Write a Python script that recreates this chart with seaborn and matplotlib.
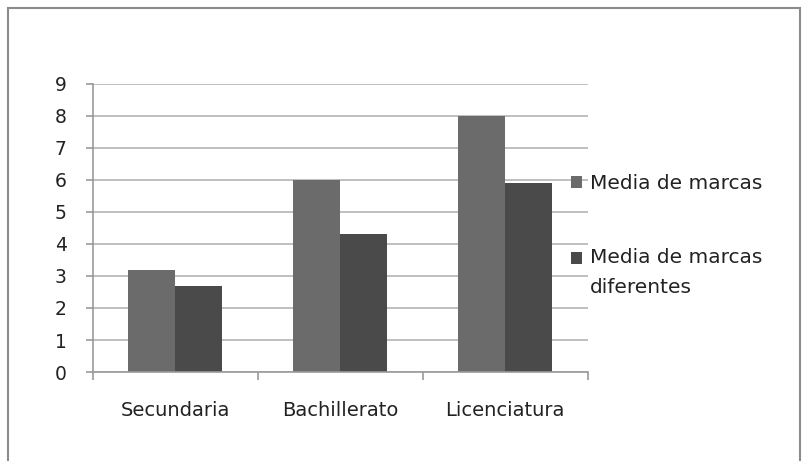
import matplotlib
matplotlib.use("Agg")
import matplotlib.pyplot as plt
from matplotlib.patches import Rectangle
import seaborn as sns
import pandas as pd

categories = ["Secundaria", "Bachillerato", "Licenciatura"]
series_names = ["Media de marcas", "Media de marcas\ndiferentes"]
media_marcas = [3.2, 6.0, 8.0]
media_diferentes = [2.7, 4.3, 5.9]
y_ticks = list(range(0, 10))

df = pd.DataFrame({
    "nivel": categories * 2,
    "serie": [series_names[0]] * 3 + [series_names[1]] * 3,
    "valor": media_marcas + media_diferentes,
})

sns.set_theme(style="white")
plt.rcParams["font.family"] = ["DejaVu Sans"]

fig = plt.figure(figsize=(8.03, 4.61), dpi=100)
ax = fig.add_axes([0.1158, 0.193, 0.616, 0.625])

sns.barplot(data=df, x="nivel", y="valor", hue="serie", order=categories,
            hue_order=series_names, palette=["#6b6b6b", "#4a4a4a"],
            width=0.57, saturation=1, edgecolor="none", ax=ax, legend=True)

ax.set_ylim(0, 9)
ax.set_yticks(y_ticks)
ax.set_xlim(-0.5, 2.5)
ax.set_xlabel("")
ax.set_ylabel("")
ax.yaxis.grid(True, color="#b4b4b4", linewidth=1.2)
ax.set_axisbelow(True)
for side in ["top", "right"]:
    ax.spines[side].set_visible(False)
for side in ["left", "bottom"]:
    ax.spines[side].set_color("#9a9a9a")
    ax.spines[side].set_linewidth(1.2)

ax.tick_params(axis="y", which="major", left=True, length=5, width=1.2,
               color="#9a9a9a", labelsize=13.5, labelcolor="#222222", pad=14)
ax.tick_params(axis="x", which="major", length=0, labelsize=14,
               labelcolor="#222222", pad=21)
ax.set_xticks([-0.5, 0.5, 1.5, 2.5], minor=True)
ax.tick_params(axis="x", which="minor", bottom=True, length=6, width=1.2,
               color="#9a9a9a")

handles, labels = ax.get_legend_handles_labels()
leg = ax.legend(handles, labels, loc="upper left", bbox_to_anchor=(0.93, 0.75),
                frameon=False, fontsize=14.5, handlelength=0.53, handleheight=0.53,
                handletextpad=0.4, labelspacing=2.75, labelcolor="#222222")
for t in leg.get_texts():
    t.set_linespacing(1.7)
# keep the square of the two-line entry level with its first line
second = leg.legend_handles[1]
second.set_y(second.get_y() + 11)

fig.add_artist(Rectangle((8 / 803, -0.01), 792 / 803, 1 - 8 / 461 + 0.01,
                         transform=fig.transFigure, fill=False,
                         edgecolor="#8c8c8c", linewidth=1.5))

fig.savefig("out.png", dpi=100, facecolor="white")
